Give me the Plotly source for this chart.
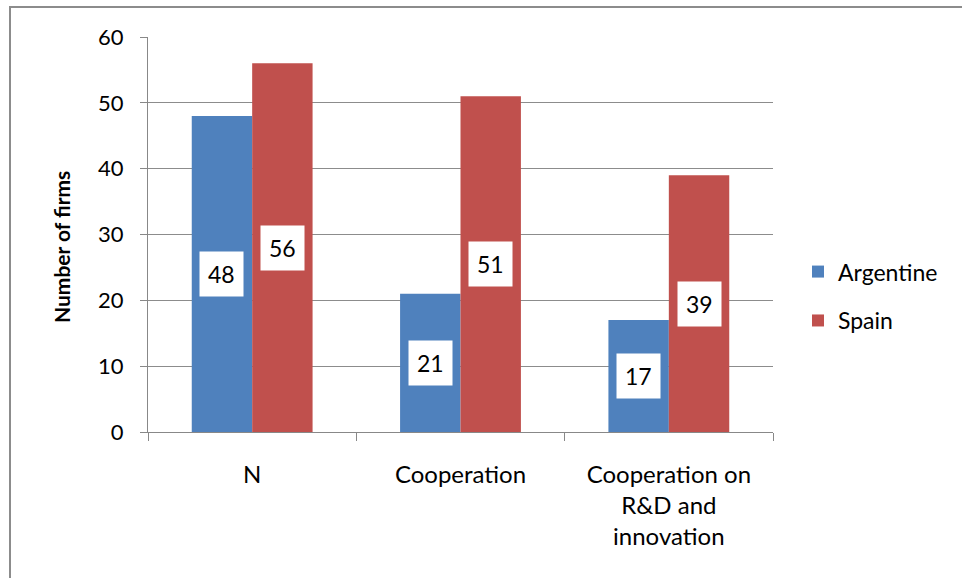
import plotly.graph_objects as go

categories = ["N", "Cooperation", "Cooperation on<br>R&D and<br>innovation"]
argentine = [48, 21, 17]
spain = [56, 51, 39]
series_names = ["Argentine", "Spain"]
colors = ["#4F81BD", "#C0504D"]
y_ticks = [0, 10, 20, 30, 40, 50, 60]
y_title = "Number of firms"

FONT = "Lato"
fig = go.Figure()
for name, vals, col in zip(series_names, [argentine, spain], colors):
    fig.add_trace(go.Bar(x=categories, y=vals, name=name, legendgroup=name,
                         marker=dict(color=col, line=dict(width=0))))

# plot area geometry (px) for label offsets
W, H = 962, 578
ml, mr, mt, mb = 148, 189, 37, 146
pw, ph = W - ml - mr, H - mt - mb
bargap = 0.42
cat_px = pw / len(categories)
bar_px = cat_px * (1 - bargap) / 2

annotations = []
for k, vals in enumerate([argentine, spain]):
    shift = (k - 0.5) * bar_px
    for c, v in zip(categories, vals):
        annotations.append(dict(x=c, y=v / 2, xref="x", yref="y", xshift=shift, text=str(v),
                                showarrow=False, bgcolor="white", borderpad=8,
                                font=dict(family=FONT, size=23, color="#000")))
annotations.append(dict(x=(62 - ml) / pw, y=(H - mb - 247) / ph, xref="paper", yref="paper",
                        xanchor="center", yanchor="middle",
                        text="<b>" + y_title + "</b>", textangle=-90, showarrow=False,
                        font=dict(family=FONT, size=21, color="#000")))

fig.update_layout(
    width=W, height=H,
    margin=dict(l=ml, r=mr, t=mt, b=mb, autoexpand=False),
    paper_bgcolor="white", plot_bgcolor="white",
    barmode="group", bargap=bargap, bargroupgap=0,
    font=dict(family=FONT, size=22, color="#000"),
    showlegend=True,
    legend=dict(x=1.04, y=0.344, xanchor="left", yanchor="middle", font=dict(size=23),
                itemsizing="constant", tracegroupgap=16, traceorder="grouped"),
    annotations=annotations,
    shapes=[dict(type="rect", xref="paper", yref="paper",
                 x0=-(ml - 10) / pw, x1=1.5,
                 y0=-1, y1=1 + (mt - 7) / ph,
                 line=dict(color="#8c8c8c", width=2), layer="below")],
    xaxis=dict(type="category", tickson="boundaries", ticks="outside", ticklen=8,
               tickcolor="#888", showline=True, linecolor="#888", linewidth=1,
               showgrid=False, tickfont=dict(size=24), ticklabelstandoff=21, automargin=False),
    yaxis=dict(range=[0, 60], tickvals=y_ticks, ticks="outside", ticklen=7, tickcolor="#888",
               showline=True, linecolor="#888", linewidth=1, showgrid=True, gridcolor="#8c8c8c",
               gridwidth=1, zeroline=False, tickfont=dict(size=22), ticklabelstandoff=12,
               automargin=False),
)
fig.write_html("out.html", post_script="document.body.style.margin='0';",
               config={"displayModeBar": False})
